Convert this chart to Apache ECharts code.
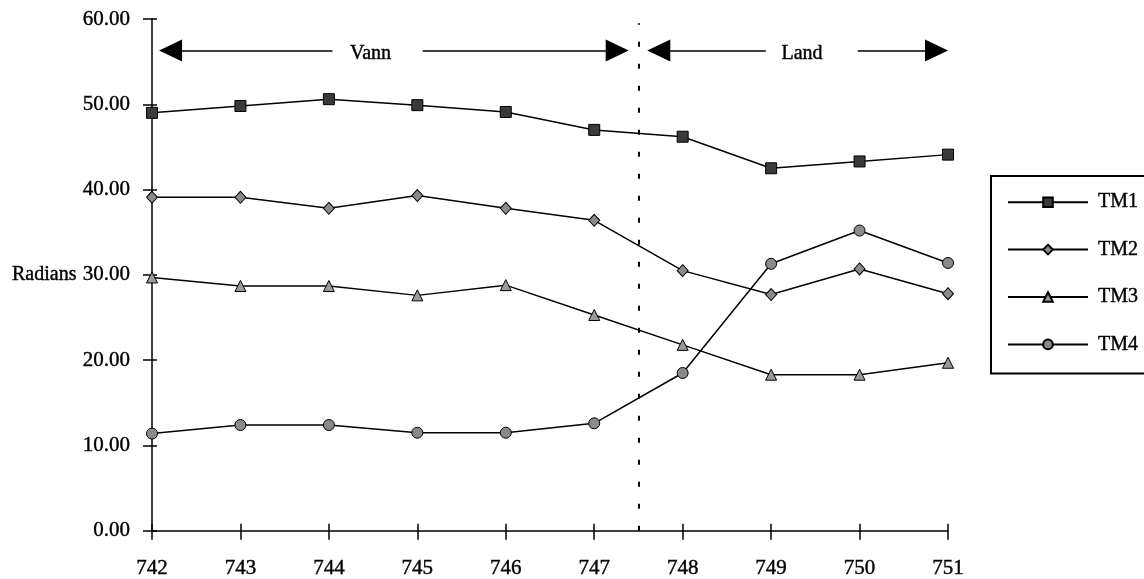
<!DOCTYPE html>
<html>
<head>
<meta charset="utf-8">
<script src="https://cdn.jsdelivr.net/npm/echarts@6/dist/echarts.min.js"></script>
<style>
html,body{margin:0;padding:0;background:#fff;}
#c{width:1144px;height:579px;}
</style>
</head>
<body>
<div id="c"></div>
<script>
const categories = [742, 743, 744, 745, 746, 747, 748, 749, 750, 751];
const tm1 = [49.0, 49.8, 50.6, 49.9, 49.1, 47.0, 46.2, 42.5, 43.3, 44.1];
const tm2 = [39.1, 39.1, 37.8, 39.3, 37.8, 36.4, 30.5, 27.7, 30.7, 27.8];
const tm3 = [29.7, 28.7, 28.7, 27.6, 28.8, 25.3, 21.8, 18.3, 18.3, 19.7];
const tm4 = [11.4, 12.4, 12.4, 11.5, 11.5, 12.6, 18.5, 31.3, 35.2, 31.4];
const seriesNames = ['TM1', 'TM2', 'TM3', 'TM4'];
const yTicks = [0, 10, 20, 30, 40, 50, 60];
const zoneLabels = ['Vann', 'Land'];

// annotation positions (data coordinates)
const arrowY = 56.3;
const dividerX = 747.5;

const FONT = 'Liberation Serif';
const TXT = { fontFamily: FONT, fontSize: 21, color: '#000', textBorderColor: '#000', textBorderWidth: 0.4 };
const chart = echarts.init(document.getElementById('c'));

function pts(vals) { return vals.map((v, i) => [categories[i], v]); }

const symbolStyles = [
  { symbol: 'rect', size: 11, fill: '#3a3a3a' },
  { symbol: 'diamond', size: [11, 12], fill: '#8a8a8a' },
  { symbol: 'triangle', size: 11, fill: '#9a9a9a' },
  { symbol: 'circle', size: 11, fill: '#8a8a8a' }
];
const allVals = [tm1, tm2, tm3, tm4];

const series = allVals.map((vals, k) => ({
  name: seriesNames[k],
  type: 'line',
  data: pts(vals),
  symbol: symbolStyles[k].symbol,
  symbolSize: symbolStyles[k].size,
  showAllSymbol: true,
  lineStyle: { color: '#000', width: 1.5 },
  itemStyle: { color: symbolStyles[k].fill, borderColor: '#000', borderWidth: 1 },
  emphasis: { disabled: true },
  animation: false,
  z: 3
}));

const arrowHead = { symbol: 'triangle', symbolSize: [22, 23] };
series[0].markLine = {
  silent: true,
  animation: false,
  label: { show: false },
  lineStyle: { color: '#000', width: 1.5, type: 'solid' },
  data: [
    [{ coord: [744.04, arrowY], symbol: 'none' }, Object.assign({ coord: [742.21, arrowY] }, arrowHead)],
    [{ coord: [745.06, arrowY], symbol: 'none' }, Object.assign({ coord: [747.26, arrowY] }, arrowHead)],
    [{ coord: [748.94, arrowY], symbol: 'none' }, Object.assign({ coord: [747.73, arrowY] }, arrowHead)],
    [{ coord: [749.98, arrowY], symbol: 'none' }, Object.assign({ coord: [750.87, arrowY] }, arrowHead)],
    [{ coord: [dividerX, 0], symbol: 'none', lineStyle: { type: [5, 17], width: 2 } },
     { coord: [dividerX, 59.5], symbol: 'none' }]
  ]
};
series[0].markPoint = {
  silent: true,
  animation: false,
  symbol: 'circle',
  symbolSize: 0,
  label: Object.assign({ show: true, position: 'inside', formatter: '{b}', offset: [0, 3] }, TXT, { fontSize: 20 }),
  data: [
    { name: zoneLabels[0], coord: [744.47, arrowY] },
    { name: zoneLabels[1], coord: [749.35, arrowY] }
  ]
};

const option = {
  backgroundColor: '#fff',
  animation: false,
  textStyle: { fontFamily: FONT },
  grid: { left: 152, right: 196, top: 19, bottom: 41, containLabel: false },
  legend: {
    left: 991, top: 176,
    orient: 'vertical',
    data: seriesNames,
    itemWidth: 80, itemHeight: 12, itemGap: 27,
    padding: [16, 30, 19, 16],
    borderColor: '#000', borderWidth: 2,
    textStyle: Object.assign({}, TXT, { fontSize: 20, lineHeight: 20, padding: [0, 0, 0, 5] }),
    selectedMode: false
  },
  xAxis: [{
    type: 'value', min: categories[0], max: categories[categories.length - 1], interval: 1,
    position: 'bottom',
    axisLine: { show: true, onZero: false, lineStyle: { color: '#000', width: 1.5 } },
    axisTick: { show: true, length: 9, lineStyle: { color: '#000', width: 1.5 } },
    axisLabel: Object.assign({ margin: 27, formatter: v => String(v) }, TXT),
    splitLine: { show: false }
  }, {
    type: 'value', min: categories[0], max: categories[categories.length - 1], interval: 1,
    position: 'bottom', offset: 0,
    axisLine: { show: false },
    axisTick: { show: true, inside: true, length: 7, lineStyle: { color: '#000', width: 1.5 } },
    axisLabel: { show: false },
    splitLine: { show: false }
  }],
  yAxis: [{
    type: 'value', min: yTicks[0], max: yTicks[yTicks.length - 1], interval: 10,
    position: 'left',
    name: 'Radians', nameLocation: 'middle', nameRotate: 0, nameGap: 75,
    nameTextStyle: Object.assign({}, TXT, { fontSize: 20 }),
    axisLine: { show: true, onZero: false, lineStyle: { color: '#000', width: 1.5 } },
    axisTick: { show: true, length: 9, lineStyle: { color: '#000', width: 1.5 } },
    axisLabel: Object.assign({ margin: 22, formatter: v => v.toFixed(2) }, TXT),
    splitLine: { show: false }
  }, {
    type: 'value', min: yTicks[0], max: yTicks[yTicks.length - 1], interval: 10,
    position: 'left', offset: 0,
    axisLine: { show: false },
    axisTick: { show: true, inside: true, length: 5, lineStyle: { color: '#000', width: 1.5 } },
    axisLabel: { show: false },
    splitLine: { show: false }
  }],
  series: series
};
chart.setOption(option);
</script>
</body>
</html>
